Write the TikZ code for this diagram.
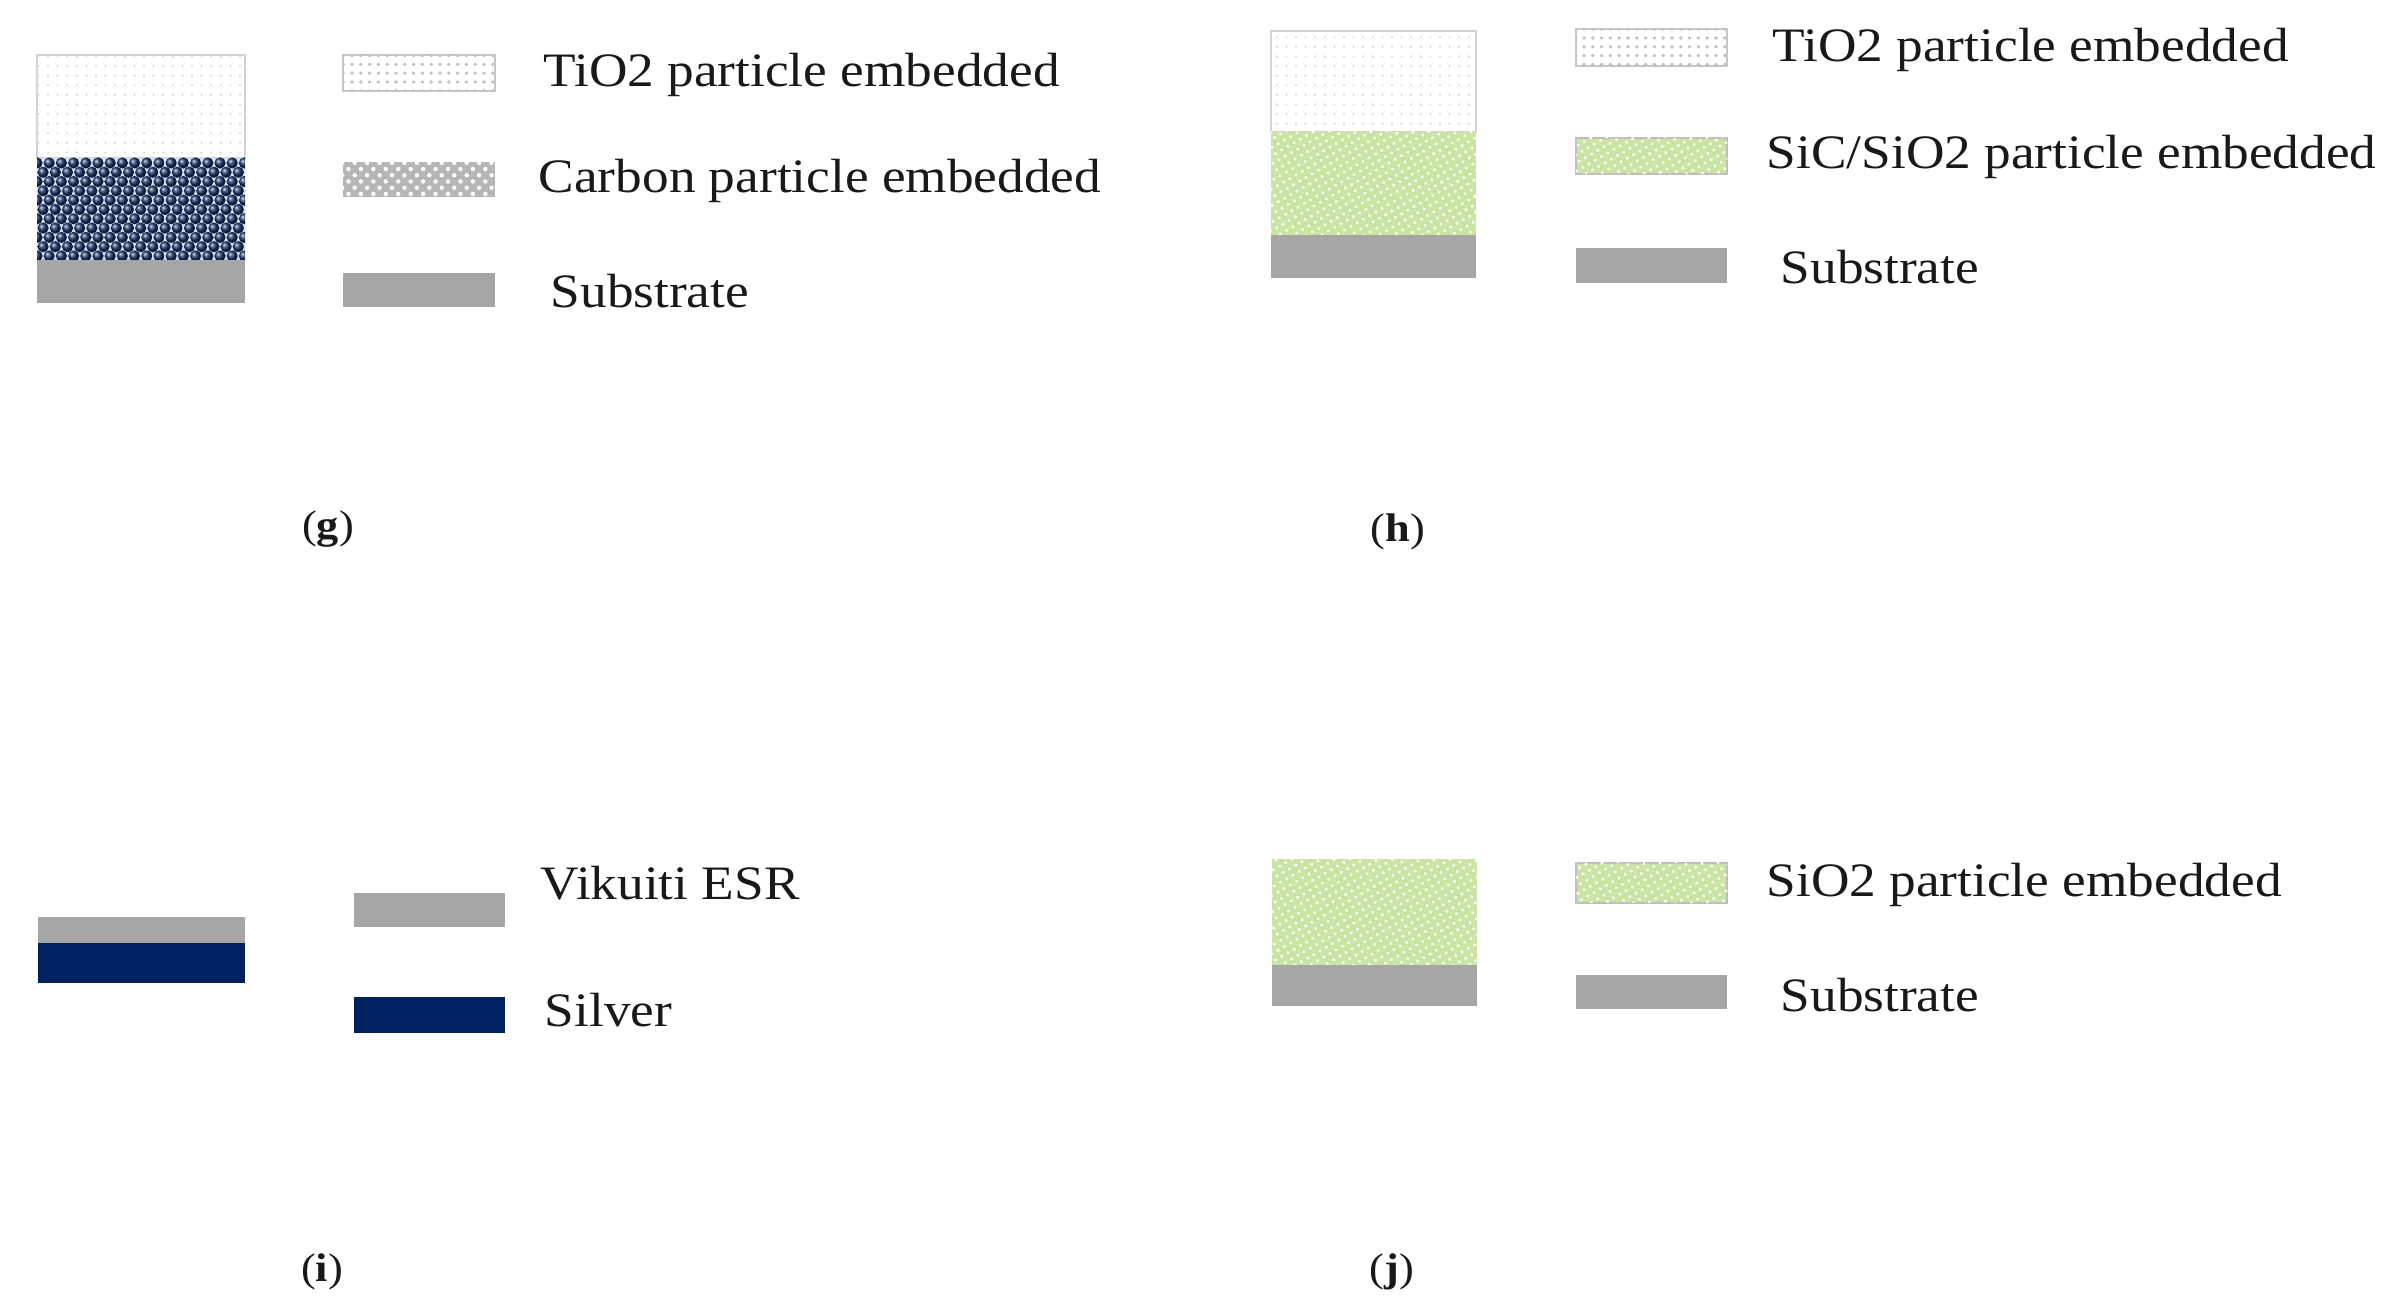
\documentclass[tikz,border=0pt]{standalone}
\usepackage{fontspec}
\setmainfont{Liberation Serif}[FakeStretch=1.11]
\usetikzlibrary{patterns.meta}
\definecolor{subgrey}{RGB}{166,166,166}
\definecolor{navyblue}{RGB}{0,32,96}
\definecolor{sicgreen}{RGB}{202,229,163}
\definecolor{carbgrey}{RGB}{182,182,182}
\definecolor{ballnavy}{RGB}{28,52,105}
\definecolor{carbbg}{RGB}{215,228,246}
\definecolor{txt}{RGB}{25,25,25}
\begin{document}
\begin{tikzpicture}[x=0.25pt,y=-0.25pt,
  lbl/.style={anchor=base west,inner sep=0pt,text=txt,font=\fontsize{12}{14}\selectfont},
  tag/.style={anchor=center,inner sep=0pt,text=txt,font=\fontsize{10}{12}\selectfont},
  substrate/.style={fill=subgrey,draw=none},
  silver/.style={fill=navyblue,draw=none},
  tiolayer/.style={fill=white,draw=gray!35,line width=0.4pt,
     postaction={pattern={Dots[radius=0.3pt,distance=2.4pt]},pattern color=gray!30}},
  tiolegend/.style={fill=white,draw=gray!45,line width=0.6pt,
     postaction={pattern={Dots[radius=0.45pt,distance=2.2pt]},pattern color=gray!50}},
  siclayer/.style={fill=sicgreen,draw=none,
     postaction={pattern={Dots[radius=0.42pt,distance=1.8pt,angle=30]},pattern color=white}},
  siclegend/.style={fill=sicgreen,draw=gray!50,line width=0.5pt,
     postaction={pattern={Dots[radius=0.42pt,distance=1.8pt,angle=30]},pattern color=white}},
  carblegend/.style={fill=carbgrey,draw=none,
     postaction={pattern={Dots[radius=0.55pt,distance=2.2pt,angle=45]},pattern color=white}},
]
\useasboundingbox[fill=white] (0,0) rectangle (2391,1314);

% ---------------- (g) ----------------
\path[tiolayer] (37,55) rectangle (245,158);
\begin{scope}
  \clip (37,158) rectangle (245,260);
  \fill[carbbg] (37,158) rectangle (245,260);
  \foreach \r in {0,...,11} {
    \foreach \c in {0,...,17} {
      \pgfmathsetmacro\xx{37+\c*12.2+mod(\r,2)*6.1}
      \pgfmathsetmacro\yy{163+\r*9.3}
      \shade[ball color=ballnavy] (\xx,\yy) circle (5.6);
    }
  }
\end{scope}
\path[substrate] (37,260) rectangle (245,303);

\path[tiolegend] (343,55) rectangle (495,91);
\path[carblegend] (343,162) rectangle (495,197);
\path[substrate] (343,273) rectangle (495,307);
\node[lbl] (g1) at (543,87) {TiO2 particle embedded};
\node[lbl] (g2) at (538,193) {Carbon particle embedded};
\node[lbl] (g3) at (550,308) {Substrate};
\node[tag] (gt) at (328,529) {(\textbf{g})};

% ---------------- (h) ----------------
\path[tiolayer] (1271,31) rectangle (1476,132);
\path[siclayer] (1271,132) rectangle (1476,235);
\path[substrate] (1271,235) rectangle (1476,278);

\path[tiolegend] (1576,29) rectangle (1727,66);
\path[siclegend] (1576,138) rectangle (1727,174);
\path[substrate] (1576,248) rectangle (1727,283);
\node[lbl] (h1) at (1772,62) {TiO2 particle embedded};
\node[lbl] (h2) at (1766,169) {SiC/SiO2 particle embedded};
\node[lbl] (h3) at (1780,284) {Substrate};
\node[tag] (ht) at (1398,532) {(\textbf{h})};

% ---------------- (i) ----------------
\path[substrate] (38,917) rectangle (245,943);
\path[silver] (38,943) rectangle (245,983);

\path[substrate] (354,893) rectangle (505,927);
\path[silver] (354,997) rectangle (505,1033);
\node[lbl] (i1) at (540,900) {Vikuiti ESR};
\node[lbl] (i2) at (544,1027) {Silver};
\node[tag] (it) at (322,1272) {(\textbf{i})};

% ---------------- (j) ----------------
\path[siclayer] (1272,859) rectangle (1477,965);
\path[substrate] (1272,965) rectangle (1477,1006);

\path[siclegend] (1576,863) rectangle (1727,903);
\path[substrate] (1576,975) rectangle (1727,1009);
\node[lbl] (j1) at (1766,897) {SiO2 particle embedded};
\node[lbl] (j2) at (1780,1012) {Substrate};
\node[tag] (jt) at (1392,1272) {(\textbf{j})};
\end{tikzpicture}
\end{document}
